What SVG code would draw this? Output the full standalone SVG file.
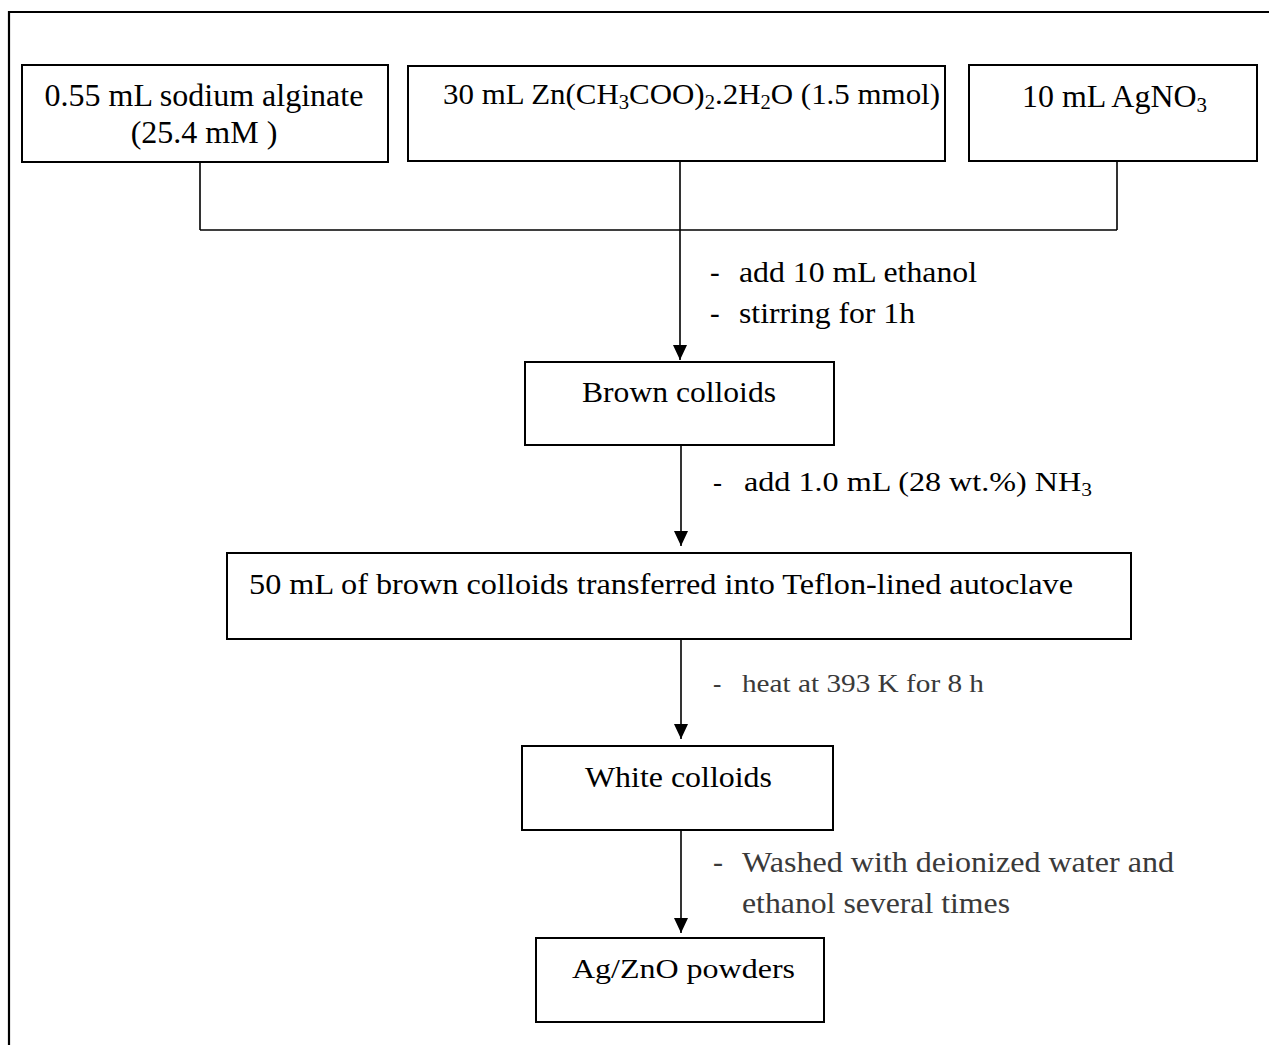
<svg xmlns="http://www.w3.org/2000/svg" width="1269" height="1045" viewBox="0 0 1269 1045">
<style>
.box{fill:#fff;stroke:#000;stroke-width:2}
.ln{fill:none;stroke:#000;stroke-width:1.6}
.t{font-family:"Liberation Serif","Times New Roman",serif;fill:#000}
.g{fill:#3a3a3a}
</style>
<defs>
<marker id="ah" markerUnits="userSpaceOnUse" markerWidth="16" markerHeight="16" refX="15" refY="7" orient="auto">
<path d="M0,0 L15,7 L0,14 z" fill="#000"/>
</marker>
</defs>
<rect width="1269" height="1045" fill="#fff"/>
<path d="M9,1045 V12 H1269" fill="none" stroke="#000" stroke-width="2.2"/>

<g id="connectors">
<path class="ln" d="M200,163 V230 M680,162 V230 M1117,161 V230 M200,230 H1117"/>
<line class="ln" x1="680" y1="230" x2="680" y2="360" marker-end="url(#ah)"/>
<line class="ln" x1="681" y1="445" x2="681" y2="546" marker-end="url(#ah)"/>
<line class="ln" x1="681" y1="640" x2="681" y2="739" marker-end="url(#ah)"/>
<line class="ln" x1="681" y1="830" x2="681" y2="933" marker-end="url(#ah)"/>
<text class="t" x="710" y="282" font-size="29">-</text>
<text class="t" x="739" y="282" font-size="29" textLength="238" lengthAdjust="spacingAndGlyphs">add 10 mL ethanol</text>
<text class="t" x="710" y="323" font-size="29">-</text>
<text class="t" x="739" y="323" font-size="29" textLength="176" lengthAdjust="spacingAndGlyphs">stirring for 1h</text>
<text class="t" x="713" y="491" font-size="27">-</text>
<text class="t" x="744" y="491" font-size="27" textLength="348" lengthAdjust="spacingAndGlyphs">add 1.0 mL (28 wt.%) NH<tspan font-size="18" dy="5">3</tspan></text>
<text class="t g" x="713" y="692" font-size="25">-</text>
<text class="t g" x="742" y="692" font-size="25" textLength="242" lengthAdjust="spacingAndGlyphs">heat at 393 K for 8 h</text>
<text class="t g" x="713" y="872" font-size="30">-</text>
<text class="t g" x="742" y="872" font-size="30" textLength="432" lengthAdjust="spacingAndGlyphs">Washed with deionized water and</text>
<text class="t g" x="742" y="913" font-size="30" textLength="268" lengthAdjust="spacingAndGlyphs">ethanol several times</text>
</g>

<g id="node-alginate">
<rect class="box" x="22" y="65" width="366" height="97"/>
<text class="t" x="204" y="106" font-size="32" text-anchor="middle">0.55 mL sodium alginate</text>
<text class="t" x="204" y="143" font-size="32" text-anchor="middle">(25.4 mM )</text>
</g>

<g id="node-zinc">
<rect class="box" x="408" y="66" width="537" height="95"/>
<text class="t" x="443" y="104" font-size="30" textLength="497" lengthAdjust="spacingAndGlyphs">30 mL Zn(CH<tspan font-size="20" dy="5">3</tspan><tspan dy="-5">COO)</tspan><tspan font-size="20" dy="5">2</tspan><tspan dy="-5">.2H</tspan><tspan font-size="20" dy="5">2</tspan><tspan dy="-5">O (1.5 mmol)</tspan></text>
</g>

<g id="node-agno3">
<rect class="box" x="969" y="65" width="288" height="96"/>
<text class="t" x="1022" y="107" font-size="32" textLength="185" lengthAdjust="spacingAndGlyphs">10 mL AgNO<tspan font-size="21" dy="5">3</tspan></text>
</g>

<g id="node-brown">
<rect class="box" x="525" y="362" width="309" height="83"/>
<text class="t" x="582" y="402" font-size="29" textLength="194" lengthAdjust="spacingAndGlyphs">Brown colloids</text>
</g>

<g id="node-teflon">
<rect class="box" x="227" y="553" width="904" height="86"/>
<text class="t" x="249" y="594" font-size="29" textLength="824" lengthAdjust="spacingAndGlyphs">50 mL of brown colloids transferred into Teflon-lined autoclave</text>
</g>

<g id="node-white">
<rect class="box" x="522" y="746" width="311" height="84"/>
<text class="t" x="585" y="787" font-size="30" textLength="187" lengthAdjust="spacingAndGlyphs">White colloids</text>
</g>

<g id="node-agzno">
<rect class="box" x="536" y="938" width="288" height="84"/>
<text class="t" x="572" y="978" font-size="28" textLength="223" lengthAdjust="spacingAndGlyphs">Ag/ZnO powders</text>
</g>
</svg>
